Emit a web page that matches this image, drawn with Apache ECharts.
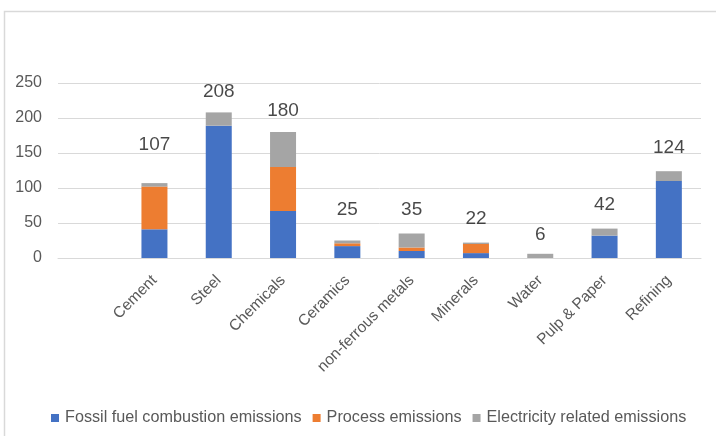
<!DOCTYPE html>
<html>
<head>
<meta charset="utf-8">
<script src="https://cdn.jsdelivr.net/npm/echarts@6/dist/echarts.min.js"></script>
<style>
html,body{margin:0;padding:0;background:#fff;}
#chart{width:716px;height:436px;}
</style>
</head>
<body>
<div id="chart"></div>
<script>
var categories = ['', 'Cement', 'Steel', 'Chemicals', 'Ceramics', 'non-ferrous metals', 'Minerals', 'Water', 'Pulp & Paper', 'Refining'];
var fossil = [null, 41, 189, 67, 17, 10, 7, 0, 32, 110];
var processEm = [null, 61, 0, 63, 4, 5, 13, 0, 0, 0];
var electricity = [null, 5, 19, 50, 4, 20, 2, 6, 10, 14];
var totals = [null, 107, 208, 180, 25, 35, 22, 6, 42, 124];
var yTicks = [0, 50, 100, 150, 200, 250];

// label style: distance above each total (pixels)
var labelDistance = [0, 29, 11, 12, 21, 14, 14, 10, 14, 14];

var FONT = '"Liberation Sans", sans-serif';
var chart = echarts.init(document.getElementById('chart'));

var totalData = totals.map(function (v, i) {
  return {value: v, label: {distance: labelDistance[i]}};
});

chart.setOption({
  animation: false,
  textStyle: {fontFamily: FONT},
  graphic: [{
    type: 'rect', left: 2, top: 9, silent: true,
    shape: {width: 730, height: 450},
    style: {fill: 'none', stroke: '#D9D9D9', lineWidth: 1.5}
  }],
  grid: {left: 58, right: 15, top: 83, bottom: 178, containLabel: false},
  legend: {
    top: 405, left: 46,
    itemWidth: 8, itemHeight: 8, itemGap: 11,
    icon: 'rect',
    textStyle: {color: '#595959', fontSize: 16.2, fontFamily: FONT, padding: [0, 0, 0, 1]},
    data: ['Fossil fuel combustion emissions', 'Process emissions', 'Electricity related emissions']
  },
  xAxis: {
    type: 'category',
    data: categories,
    axisLine: {lineStyle: {color: '#D9D9D9', width: 1}},
    axisTick: {show: false},
    axisLabel: {rotate: 45, color: '#595959', fontSize: 15.5, margin: 20, interval: 0, fontFamily: FONT}
  },
  yAxis: {
    type: 'value',
    min: yTicks[0], max: yTicks[yTicks.length - 1], interval: 50,
    axisLine: {show: false},
    axisTick: {show: false},
    splitLine: {lineStyle: {color: '#D9D9D9', width: 1}},
    axisLabel: {color: '#595959', fontSize: 16, margin: 16, fontFamily: FONT}
  },
  series: [
    {name: 'Fossil fuel combustion emissions', type: 'bar', stack: 't', data: fossil, barWidth: 26, itemStyle: {color: '#4472C4'}},
    {name: 'Process emissions', type: 'bar', stack: 't', data: processEm, barWidth: 26, itemStyle: {color: '#ED7D31'}},
    {name: 'Electricity related emissions', type: 'bar', stack: 't', data: electricity, barWidth: 26, itemStyle: {color: '#A5A5A5'}},
    {name: 'Total', type: 'scatter', data: totalData, symbolSize: 0, silent: true,
     label: {show: true, position: 'top', color: '#1a1a1a', fontSize: 19, fontFamily: FONT}}
  ]
});
</script>
</body>
</html>
